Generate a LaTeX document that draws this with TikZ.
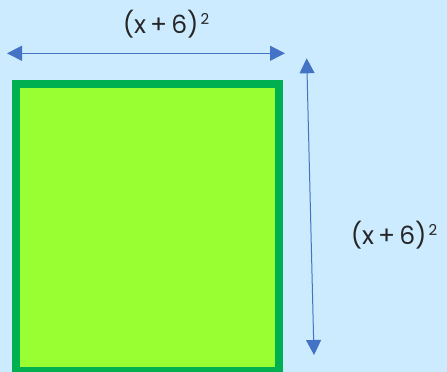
\documentclass[tikz,border=0pt]{standalone}
\usepackage{fontspec}
\setmainfont{Poppins}
\usetikzlibrary{arrows.meta}
\definecolor{bgblue}{HTML}{CCEBFF}
\definecolor{boxgreen}{HTML}{00B050}
\definecolor{boxfill}{HTML}{99FF33}
\definecolor{arrowblue}{HTML}{4472C4}
\newcommand{\sqlabel}{(x\hspace{4pt}+\hspace{4pt}6)\hspace{2pt}\raisebox{9pt}{\fontsize{15}{17}\selectfont 2}}
\tikzset{
  dim/.style={draw=arrowblue, line width=1pt, {Triangle[length=15pt,width=15pt]}-{Triangle[length=15pt,width=15pt]}},
  lbl/.style={font=\fontsize{25}{30}\selectfont, text=black!85, inner sep=0pt}
}
\begin{document}
\begin{tikzpicture}[x=1pt,y=-1pt]
  \fill[bgblue] (0,0) rectangle (447,372);
  \useasboundingbox (0,0) rectangle (447,372);
  \draw[boxgreen, fill=boxfill, line width=8pt] (16,84) rectangle (279,370.5);
  \coordinate (hl) at (7,53.3);
  \coordinate (hr) at (285,53.3);
  \coordinate (vt) at (306.7,58.3);
  \coordinate (vb) at (314,355);
  \draw[dim] (hl) -- (hr);
  \draw[dim] (vt) -- (vb);
  \node[lbl] (top) at (166,24) {\sqlabel};
  \node[lbl] (right) at (394,235) {\sqlabel};
\end{tikzpicture}
\end{document}
